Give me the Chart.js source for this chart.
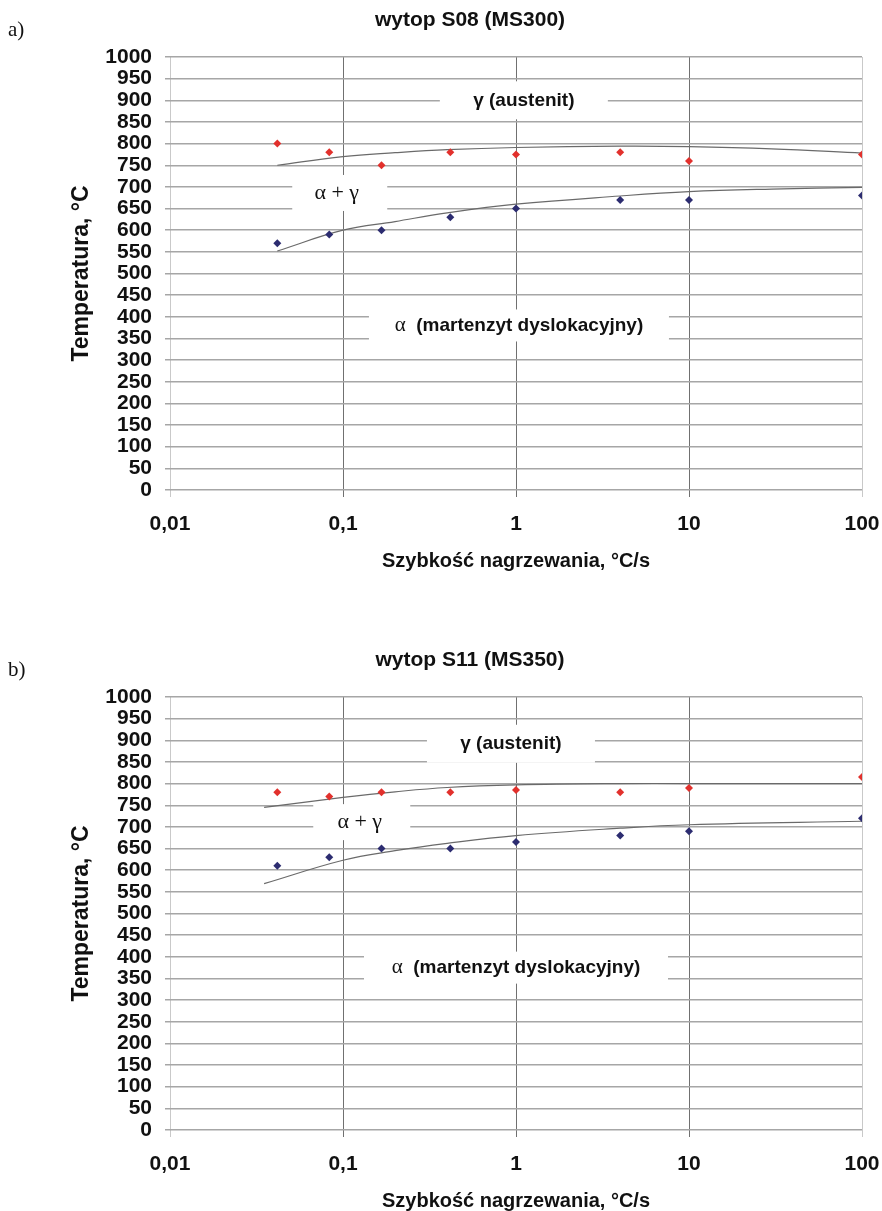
<!DOCTYPE html>
<html><head><meta charset="utf-8">
<script src="https://cdn.jsdelivr.net/npm/chart.js@4/dist/chart.umd.min.js"></script>
<style>
html,body{margin:0;padding:0;background:#fff;width:882px;height:1211px;overflow:hidden}
.panel{position:absolute;left:0;width:882px;height:571px}
canvas{display:block}
</style></head><body>
<div class="panel" style="top:0"><canvas id="cA" width="882" height="571"></canvas></div>
<div class="panel" style="top:640px"><canvas id="cB" width="882" height="571"></canvas></div>
<script>
// ---- data ----
const rates = [0.0417, 0.0833, 0.167, 0.417, 1, 4, 10, 100];

const s08Ac3 = [800, 780, 750, 780, 775, 780, 760, 775];
const s08Ac1 = [570, 590, 600, 630, 650, 670, 670, 680];
const s08Ac3TrendX = [0.0417, 0.1, 0.2, 0.4, 1, 4, 10, 30, 100];
const s08Ac3TrendY = [750, 770, 779, 786, 791, 794, 793, 788, 778];
const s08Ac1TrendX = [0.0417, 0.1, 0.2, 0.4, 1, 4, 10, 30, 100];
const s08Ac1TrendY = [552, 600, 620, 640, 660, 679, 689, 695, 699];

const s11Ac3 = [780, 770, 780, 780, 785, 780, 790, 815];
const s11Ac1 = [610, 630, 650, 650, 665, 680, 690, 720];
const s11Ac3TrendX = [0.035, 0.1, 0.2, 0.4, 1, 4, 10, 100];
const s11Ac3TrendY = [745, 768, 781, 791, 797, 800, 800, 800];
const s11Ac1TrendX = [0.035, 0.1, 0.2, 0.4, 1, 4, 10, 100];
const s11Ac1TrendY = [569, 623, 645, 662, 680, 697, 705, 713];

const xTickValues = [0.01, 0.1, 1, 10, 100];
const xTickLabels = ['0,01', '0,1', '1', '10', '100'];
const yMin = 0, yMax = 1000, yStep = 50;

const titleA = 'wytop S08 (MS300)';
const titleB = 'wytop S11 (MS350)';
const xTitle = 'Szybkość nagrzewania, °C/s';
const yTitle = 'Temperatura, °C';

// ---- styles ----
const SANS = '"Liberation Sans", Arial, sans-serif';
const SERIF = '"Liberation Serif", "Times New Roman", serif';
const RED = '#e2302c';
const NAVY = '#2c2c70';
const TREND = '#6a6a6a';

const fLbl = 'bold 19px ' + SANS;
const fSym = '22px ' + SERIF;
const fSymS = '21px ' + SERIF;

function pts(xs, ys) { return xs.map((x, i) => ({ x: x, y: ys[i] })); }

const overlayPlugin = {
  id: 'overlay',
  beforeDatasetsDraw(chart, args, o) {
    const ctx = chart.ctx, xs = chart.scales.x, ys = chart.scales.y;
    ctx.save();
    o.labels.forEach(l => {
      const cx = xs.getPixelForValue(l.x), cy = ys.getPixelForValue(l.y);
      ctx.fillStyle = '#fff';
      ctx.fillRect(cx - l.w / 2 + (l.bx || 0), cy - l.h / 2, l.w, l.h);
      let total = 0;
      l.segs.forEach(s => { ctx.font = s.font; s._w = ctx.measureText(s.text).width; total += s._w; });
      let x = cx - total / 2;
      ctx.fillStyle = '#111';
      ctx.textBaseline = 'middle';
      ctx.textAlign = 'left';
      l.segs.forEach(s => { ctx.font = s.font; ctx.fillText(s.text, x, cy + (s.dy || 0)); x += s._w; });
    });
    ctx.restore();
  },
  afterDraw(chart, args, o) {
    const ctx = chart.ctx;
    ctx.save();
    ctx.fillStyle = '#111';
    ctx.textBaseline = 'middle';
    ctx.textAlign = 'center';
    ctx.font = 'bold 21px ' + SANS;
    ctx.fillText(o.title, 470, 20);
    ctx.textAlign = 'left';
    ctx.font = '21px ' + SERIF;
    ctx.fillText(o.panel, 8, 30);
    ctx.restore();
  }
};

function makeChart(id, cfg) {
  return new Chart(document.getElementById(id), {
    type: 'scatter',
    data: {
      datasets: [
        { data: pts(rates, cfg.ac3), pointStyle: 'rectRot', pointRadius: 4, backgroundColor: RED, borderWidth: 0, order: 0 },
        { data: pts(rates, cfg.ac1), pointStyle: 'rectRot', pointRadius: 4, backgroundColor: NAVY, borderWidth: 0, order: 0 },
        { data: pts(cfg.t3x, cfg.t3y), showLine: true, pointRadius: 0, borderColor: TREND, borderWidth: 1.2, tension: 0.4, fill: false, order: 1 },
        { data: pts(cfg.t1x, cfg.t1y), showLine: true, pointRadius: 0, borderColor: TREND, borderWidth: 1.2, tension: 0.4, fill: false, order: 1 }
      ]
    },
    options: {
      responsive: false,
      animation: false,
      events: [],
      layout: { padding: { top: 57, right: 20, bottom: 0, left: 0 } },
      plugins: {
        legend: { display: false },
        tooltip: { enabled: false },
        title: { display: false },
        overlay: { title: cfg.title, panel: cfg.panel, labels: cfg.labels }
      },
      scales: {
        x: {
          type: 'logarithmic',
          min: 0.01, max: 100,
          afterBuildTicks: s => { s.ticks = xTickValues.map(v => ({ value: v, major: true })); },
          afterFit: s => { s.height = 81; s.paddingLeft = 0; s.paddingRight = 0; },
          ticks: {
            autoSkip: false, maxRotation: 0, padding: 15, color: '#111',
            font: { family: SANS, size: 21, weight: 'bold' },
            callback: (v, i) => xTickLabels[i]
          },
          grid: {
            color: c => (c.index === 0 || c.index === xTickValues.length - 1) ? '#c9c9c9' : '#707070',
            lineWidth: 1, tickLength: 7
          },
          border: { display: false },
          title: {
            display: true, text: xTitle, color: '#111',
            font: { family: SANS, size: 20, weight: 'bold' },
            padding: { top: 0, bottom: -2 }
          }
        },
        y: {
          min: yMin, max: yMax,
          afterFit: s => { s.width = 170; s.paddingTop = 0; s.paddingBottom = 0; },
          ticks: {
            stepSize: yStep, autoSkip: false, padding: 13, color: '#111',
            font: { family: SANS, size: 21, weight: 'bold', lineHeight: 1 },
            callback: v => String(v)
          },
          grid: { color: '#a6a6a6', lineWidth: 1.5, tickLength: 5 },
          border: { display: false },
          title: {
            display: true, text: yTitle, color: '#111',
            font: { family: SANS, size: 23, weight: 'bold' },
            padding: { top: 68, bottom: 0 }
          }
        }
      }
    },
    plugins: [overlayPlugin]
  });
}

makeChart('cA', {
  title: titleA, panel: 'a)',
  ac3: s08Ac3, ac1: s08Ac1,
  t3x: s08Ac3TrendX, t3y: s08Ac3TrendY, t1x: s08Ac1TrendX, t1y: s08Ac1TrendY,
  labels: [
    { x: 1.11, y: 900, w: 168, h: 38, segs: [{ text: 'γ (austenit)', font: fLbl }] },
    { x: 0.092, y: 686, w: 95, h: 36, bx: 3, segs: [{ text: 'α + γ', font: fSym }] },
    { x: 1.04, y: 380, w: 300, h: 32, segs: [{ text: 'α', font: fSymS }, { text: '  (martenzyt dyslokacyjny)', font: fLbl }] }
  ]
});

makeChart('cB', {
  title: titleB, panel: 'b)',
  ac3: s11Ac3, ac1: s11Ac1,
  t3x: s11Ac3TrendX, t3y: s11Ac3TrendY, t1x: s11Ac1TrendX, t1y: s11Ac1TrendY,
  labels: [
    { x: 0.935, y: 892, w: 168, h: 38, segs: [{ text: 'γ (austenit)', font: fLbl }] },
    { x: 0.125, y: 711, w: 97, h: 36, bx: 2, segs: [{ text: 'α + γ', font: fSym }] },
    { x: 1.0, y: 375, w: 304, h: 32, segs: [{ text: 'α', font: fSymS }, { text: '  (martenzyt dyslokacyjny)', font: fLbl }] }
  ]
});
</script>
</body></html>
